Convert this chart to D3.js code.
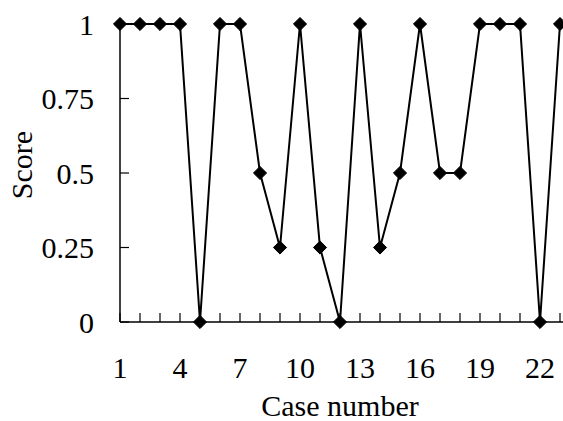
<!DOCTYPE html>
<html>
<head>
<meta charset="utf-8">
<script src="https://cdn.jsdelivr.net/npm/d3@7"></script>
<style>
  body { margin: 0; background: #fff; }
  svg { display: block; }
  text { font-family: "Liberation Serif", "Times New Roman", serif; fill: #000; }
</style>
</head>
<body>
<div id="chart"></div>
<script>
// case numbers and scores
var cases = [1, 2, 3, 4, 5, 6, 7, 8, 9, 10, 11, 12, 13, 14, 15, 16, 17, 18, 19, 20, 21, 22, 23];
var scores = [1, 1, 1, 1, 0, 1, 1, 0.5, 0.25, 1, 0.25, 0, 1, 0.25, 0.5, 1, 0.5, 0.5, 1, 1, 1, 0, 1];
var xTickLabels = [1, 4, 7, 10, 13, 16, 19, 22];
var yTickLabels = [0, 0.25, 0.5, 0.75, 1];

var width = 563, height = 421;
var margin = {left: 120, top: 24, right: 3, bottom: 99};

var svg = d3.select('#chart').append('svg')
	.attr('width', width)
	.attr('height', height);

var x = d3.scaleLinear().domain([1, 23]).range([margin.left, 560]);
var y = d3.scaleLinear().domain([0, 1]).range([height - margin.bottom, margin.top]);

// x axis: line, small ticks for every case pointing up, labels every third
svg.append('line')
	.attr('x1', x(1)).attr('x2', width)
	.attr('y1', y(0)).attr('y2', y(0))
	.attr('stroke', '#000').attr('stroke-width', 1.5);

svg.selectAll('.xtick').data(cases).enter().append('line')
	.attr('class', 'xtick')
	.attr('x1', function(d){ return x(d); })
	.attr('x2', function(d){ return x(d); })
	.attr('y1', y(0)).attr('y2', y(0) - 9)
	.attr('stroke', '#000').attr('stroke-width', 1.2);

svg.selectAll('.xlabel').data(xTickLabels).enter().append('text')
	.attr('class', 'xlabel')
	.attr('x', function(d){ return x(d); })
	.attr('y', 378)
	.attr('text-anchor', 'middle')
	.style('font-size', '30px')
	.text(function(d){ return d; });

// y axis
svg.append('line')
	.attr('x1', x(1)).attr('x2', x(1))
	.attr('y1', y(0)).attr('y2', y(1))
	.attr('stroke', '#000').attr('stroke-width', 1.5);

svg.selectAll('.ytick').data(yTickLabels).enter().append('line')
	.attr('class', 'ytick')
	.attr('x1', x(1)).attr('x2', x(1) + 9)
	.attr('y1', function(d){ return y(d); })
	.attr('y2', function(d){ return y(d); })
	.attr('stroke', '#000').attr('stroke-width', 1.2);

svg.selectAll('.ylabel').data(yTickLabels).enter().append('text')
	.attr('class', 'ylabel')
	.attr('x', 94)
	.attr('y', function(d){ return y(d); })
	.attr('dy', '0.35em')
	.attr('text-anchor', 'end')
	.style('font-size', '30px')
	.text(function(d){ return d; });

// axis titles
svg.append('text')
	.attr('x', 340).attr('y', 416)
	.attr('text-anchor', 'middle')
	.style('font-size', '30px')
	.text('Case number');

svg.append('text')
	.attr('transform', 'translate(32,165) rotate(-90)')
	.attr('text-anchor', 'middle')
	.style('font-size', '30px')
	.text('Score');

// the series
var points = cases.map(function(c, i){ return [c, scores[i]]; });

var line = d3.line()
	.x(function(d){ return x(d[0]); })
	.y(function(d){ return y(d[1]); });

svg.append('path')
	.datum(points)
	.attr('fill', 'none')
	.attr('stroke', '#000')
	.attr('stroke-width', 2)
	.attr('d', line);

var diamond = d3.symbol().type(d3.symbolDiamond2).size(110);

svg.selectAll('.marker').data(points).enter().append('path')
	.attr('class', 'marker')
	.attr('transform', function(d){ return 'translate(' + x(d[0]) + ',' + y(d[1]) + ')'; })
	.attr('d', diamond)
	.attr('fill', '#000')
	.attr('stroke', '#000')
	.attr('stroke-width', 1);
</script>
</body>
</html>
